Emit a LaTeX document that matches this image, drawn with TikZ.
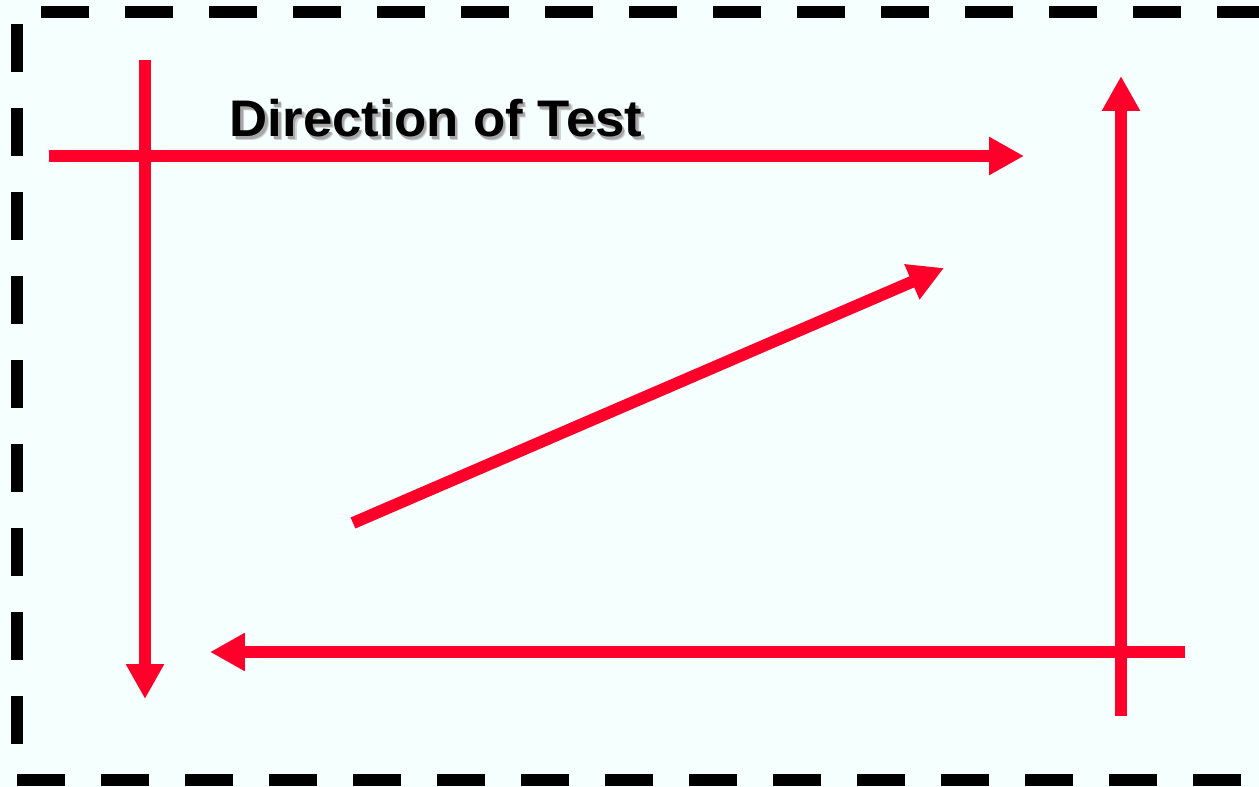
\documentclass[tikz,border=0pt]{standalone}
\usepackage{fontspec}
\newfontfamily\arialfont{Liberation Sans}
\usetikzlibrary{arrows.meta}
\definecolor{bgcol}{RGB}{245,255,254}
\definecolor{arrred}{RGB}{255,0,42}
\newcommand{\shadowtext}[1]{%
  \makebox[0pt][l]{\hspace{1.9pt}\raisebox{-1.9pt}{\color{black!18}#1}}%
  \makebox[0pt][l]{\hspace{1.3pt}\raisebox{-1.3pt}{\color{black!35}#1}}%
  #1}
\tikzset{
  redarrow/.style={draw=arrred, line width=0.24cm,
    -{Triangle[width=0.72cm,length=0.70cm]}},
  borderdash/.style={draw=black, line width=0.24cm,
    dash pattern=on 0.96cm off 0.72cm},
  titletext/.style={font=\arialfont\bfseries\fontsize{29.3pt}{34pt}\selectfont,
    inner sep=0pt, anchor=base west, xscale=1.025}
}
\begin{document}
\begin{tikzpicture}[x=0.02cm, y=-0.02cm]
  \fill[bgcol] (0,0) rectangle (1259,787);
  \useasboundingbox (0,0) rectangle (1259,787);
  % dashed frame
  \coordinate (tl) at (41,12);
  \coordinate (tr) at (1259,12);
  \coordinate (lt) at (17,24);
  \coordinate (lb) at (17,745);
  \coordinate (bl) at (17,780);
  \coordinate (br) at (1259,780);
  \draw[borderdash] (tl) -- (tr);
  \draw[borderdash] (lt) -- (lb);
  \draw[borderdash] (bl) -- (br);
  % arrows
  \coordinate (topS) at (49,156);
  \coordinate (topE) at (1024,156);
  \coordinate (leftS) at (145,60);
  \coordinate (leftE) at (145,699);
  \coordinate (rightS) at (1121,716);
  \coordinate (rightE) at (1121,76);
  \coordinate (botS) at (1185,652);
  \coordinate (botE) at (210,652);
  \coordinate (diagS) at (353,523);
  \coordinate (diagE) at (944,268);
  \draw[redarrow] (topS) -- (topE);
  \draw[redarrow] (leftS) -- (leftE);
  \draw[redarrow] (rightS) -- (rightE);
  \draw[redarrow] (botS) -- (botE);
  \draw[redarrow] (diagS) -- (diagE);
  % title with soft shadow
  \node[titletext, text=black] (title) at (229.5,137) {\shadowtext{Direction of Test}};
\end{tikzpicture}
\end{document}
